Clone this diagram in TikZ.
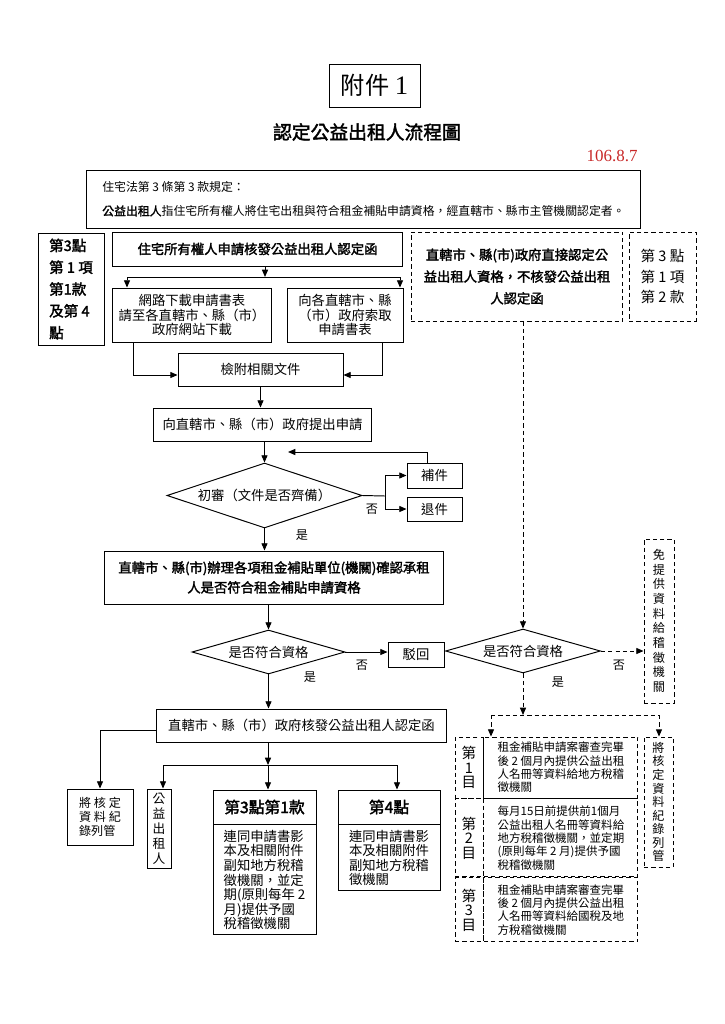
\documentclass[tikz,border=0pt]{standalone}
\usepackage{fontspec}
\setmainfont{Noto Sans CJK TC}[AutoFakeBold=2]
\newfontfamily\latinserif{Liberation Serif}
\usepackage{xcolor}
\usetikzlibrary{arrows.meta,positioning,shapes.geometric}
\definecolor{datered}{RGB}{200,40,40}

\begin{document}
\begin{tikzpicture}[
  x=0.029cm, y=-0.029cm,
  line width=0.8pt,
  >={Triangle[length=6pt,width=5pt]},
  every node/.style={font=\fontsize{11}{13}\selectfont, inner sep=0pt},
  box/.style={rectangle, draw, align=center, inner sep=2pt},
  dbox/.style={box, dash pattern=on 3.5pt off 2.5pt},
  cond/.style={diamond, draw, align=center, inner sep=0pt},
  arr/.style={->},
  darr/.style={->, dash pattern=on 3.5pt off 2.5pt},
  dline/.style={dash pattern=on 3.5pt off 2.5pt},
  yesno/.style={font=\fontsize{10}{12}\selectfont},
]
\useasboundingbox (0,0) rectangle (724,1024);

% === Heading ===
\node[box, minimum width=2.639cm, minimum height=1.247cm, font=\fontsize{20}{22}\selectfont] (annex) at (374.5,85.5) {附件 {\latinserif\fontsize{22}{22}\selectfont 1}};
\node[font=\bfseries\fontsize{15.5}{18}\selectfont] (title) at (367,132) {認定公益出租人流程圖};
\node[anchor=east, text=datered, font=\latinserif\fontsize{14}{16}\selectfont] (date) at (638,156) {106.8.7};

\node[box, minimum width=16.095cm, minimum height=1.682cm, align=left, font=\fontsize{9.8}{19.8}\selectfont] (law) at (363.5,199) {住宅法第 3 條第 3 款規定：\\\textbf{公益出租人}指住宅所有權人將住宅出租與符合租金補貼申請資格，經直轄市、縣市主管機關認定者。};

% === Left branch: application ===
\node[box, minimum width=1.914cm, minimum height=3.248cm, align=left, font=\bfseries\fontsize{12}{18}\selectfont] (note1) at (71,289) {第3點\\第 1 項\\第1款\\及第 4\\點};
\node[box, minimum width=8.439cm, minimum height=0.986cm, font=\bfseries\fontsize{11}{13}\selectfont] (apply) at (257.5,249) {住宅所有權人申請核發公益出租人認定函};
\node[box, minimum width=4.64cm, minimum height=1.566cm, font=\fontsize{11}{12.3}\selectfont] (download) at (192,315) {網路下載申請書表\\請至各直轄市、縣（市）\\政府網站下載};
\node[box, minimum width=3.364cm, minimum height=1.566cm, font=\fontsize{11}{12.3}\selectfont] (obtain) at (345,315) {向各直轄市、縣\\（市）政府索取\\申請書表};

\node[box, minimum width=4.785cm, minimum height=0.957cm] (attach) at (260.5,369.5) {檢附相關文件};
\node[box, minimum width=6.351cm, minimum height=0.957cm] (submit) at (262.5,424.5) {向直轄市、縣（市）政府提出申請};
\node[cond, aspect=3, minimum width=5.655cm, minimum height=1.885cm] (review) at (264.5,495.5) {初審（文件是否齊備）};
\node[box, minimum width=1.595cm, minimum height=0.725cm] (patch) at (434.5,475.5) {補件};
\node[box, minimum width=1.595cm, minimum height=0.696cm] (returned) at (434.5,509) {退件};

\node[box, minimum width=9.86cm, minimum height=1.537cm, font=\bfseries\fontsize{11}{16.4}\selectfont] (verify) at (274,577.5) {直轄市、縣(市)辦理各項租金補貼單位(機關)確認承租\\人是否符合租金補貼申請資格};
\node[cond, aspect=3.48, minimum width=4.437cm, minimum height=1.276cm] (elig) at (268.5,652) {是否符合資格};
\node[box, minimum width=1.624cm, minimum height=0.725cm] (reject) at (416,654.5) {駁回};
\node[box, minimum width=8.439cm, minimum height=0.957cm] (issue) at (301.5,725.5) {直轄市、縣（市）政府核發公益出租人認定函};

% === Outcomes ===
\node[box, minimum width=1.914cm, minimum height=1.624cm, align=left, font=\fontsize{10}{11.5}\selectfont] (filing) at (100,817) {將 核 定\\資 料 紀\\錄列管};
\node[box, minimum width=0.696cm, minimum height=2.291cm, font=\fontsize{10.5}{12.3}\selectfont] (landlord) at (159,828.5) {公\\益\\出\\租\\人};
\node[box, minimum width=2.987cm, minimum height=0.986cm, font=\bfseries\fontsize{13}{15}\selectfont] (p31h) at (264.5,807) {第3點第1款};
\node[box, below=0pt of p31h, minimum width=2.987cm, minimum height=3.19cm, align=left, font=\fontsize{11}{12}\selectfont] (p31b) {連同申請書影\\本及相關附件\\副知地方稅稽\\徵機關，並定\\期(原則每年 2\\月)提供予國\\稅稽徵機關};
\node[box, minimum width=2.958cm, minimum height=0.986cm, font=\bfseries\fontsize{13}{15}\selectfont] (p4h) at (389,807) {第4點};
\node[box, below=0pt of p4h, minimum width=2.958cm, minimum height=1.914cm, align=left, font=\fontsize{11}{12}\selectfont] (p4b) {連同申請書影\\本及相關附件\\副知地方稅稽\\徵機關};

% === Right branch: direct recognition ===
\node[dbox, minimum width=6.148cm, minimum height=2.581cm, font=\bfseries\fontsize{11}{18}\selectfont] (direct) at (517,276.5) {直轄市、縣(市)政府直接認定公\\益出租人資格，不核發公益出租\\人認定函};
\node[dbox, minimum width=1.943cm, minimum height=2.581cm, font=\fontsize{12}{17}\selectfont] (note2) at (662.5,276.5) {第 3 點\\第 1 項\\第 2 款};
\node[cond, aspect=3.52, minimum width=4.495cm, minimum height=1.276cm] (elig2) at (523,651) {是否符合資格};
\node[dbox, minimum width=0.87cm, minimum height=4.756cm, font=\fontsize{10}{12.1}\selectfont] (exempt) at (659,621) {免\\提\\供\\資\\料\\給\\稽\\徵\\機\\關};

\node[dbox, minimum width=0.812cm, minimum height=1.769cm, font=\fontsize{12}{12}\selectfont] (item1) at (469,767.5) {第\\1\\目};
\node[dbox, right=0pt of item1, minimum width=4.466cm, minimum height=1.769cm, align=left, font=\fontsize{9.5}{11}\selectfont] (text1) {租金補貼申請案審查完畢\\後 2 個月內提供公益出租\\人名冊等資料給地方稅稽\\徵機關};
\node[dbox, below=0pt of item1, minimum width=0.812cm, minimum height=2.262cm, font=\fontsize{12}{12}\selectfont] (item2) {第\\2\\目};
\node[dbox, right=0pt of item2, minimum width=4.466cm, minimum height=2.262cm, align=left, font=\fontsize{9.5}{11}\selectfont] (text2) {每月15日前提供前1個月\\公益出租人名冊等資料給\\地方稅稽徵機關，並定期\\(原則每年 2 月)提供予國\\稅稽徵機關};
\node[dbox, below=0pt of item2, minimum width=0.812cm, minimum height=1.856cm, font=\fontsize{12}{12}\selectfont] (item3) {第\\3\\目};
\node[dbox, right=0pt of item3, minimum width=4.466cm, minimum height=1.856cm, align=left, font=\fontsize{9.5}{11}\selectfont] (text3) {租金補貼申請案審查完畢\\後 2 個月內提供公益出租\\人名冊等資料給國稅及地\\方稅稽徵機關};
\node[dbox, minimum width=0.841cm, minimum height=3.77cm, font=\fontsize{10}{11.2}\selectfont] (keep) at (658.5,802) {將\\核\\定\\資\\料\\紀\\錄\\列\\管};

% === Branch labels ===
\node[yesno] (no1) at (372,509) {否};
\node[yesno] (yes1) at (302,535) {是};
\node[yesno] (no2) at (362,665) {否};
\node[yesno] (yes2) at (310,677) {是};
\node[yesno] (no3) at (619,665) {否};
\node[yesno] (yes3) at (558,682) {是};

% === Junction points ===
\coordinate (split1) at (265,277);
\coordinate (split1l) at (127,277);
\coordinate (split1r) at (400,277);
\coordinate (join1) at (133,375);
\coordinate (join2) at (382,375);
\coordinate (fork) at (385,496);
\coordinate (back) at (288,452);
\coordinate (split2) at (268,765);
\coordinate (split2l) at (163,765);
\coordinate (split2r) at (397,765);
\coordinate (split3) at (523,715);
\coordinate (split3l) at (491,715);
\coordinate (split3r) at (659,715);

% === Arrows: main flow ===
\draw[arr] (apply.south -| split1) -- (split1);
\draw (split1l) -- (split1r);
\draw[arr] (split1l) -- (split1l |- download.north);
\draw[arr] (split1r) -- (split1r |- obtain.north);
\draw[arr] (download.south -| join1) |- (attach.west |- join1);
\draw[arr] (obtain.south -| join2) |- (attach.east |- join2);
\draw[arr] (attach.south) -- (attach.south |- submit.north);
\draw[arr] (submit.south -| review.north) -- (review.north);
\draw (review.east) -- (fork);
\draw[arr] (fork) |- (patch.west);
\draw[arr] (fork) |- (returned.west);
\draw[arr] ([xshift=-0.19cm]patch.north) |- (back);
\draw[arr] (review.south) -- (review.south |- verify.north);
\draw[arr] (verify.south -| elig.north) -- (elig.north);
\draw[arr] (elig.east) -- (reject.west |- elig.east);
\draw[arr] (elig.south) -- (elig.south |- issue.north);
\draw[arr] ([yshift=-0.13cm]issue.west) -| (filing.north);
\draw[arr] (issue.south -| split2) -- (split2);
\draw (split2l) -- (split2r);
\draw[arr] (split2l) -- (split2l |- landlord.north);
\draw[arr] (split2) -- (split2 |- p31h.north);
\draw[arr] (split2r) -- (split2r |- p4h.north);

% === Arrows: direct recognition ===
\draw[darr] (direct.south -| elig2.north) -- (elig2.north);
\draw[darr] (elig2.east) -- (elig2.east -| exempt.west);
\draw[darr] (elig2.south) -- (split3);
\draw[dline] (split3l) -- (split3r);
\draw[darr] (split3l) -- (split3l |- text1.north);
\draw[darr] (split3r) -- (split3r |- keep.north);

\end{tikzpicture}
\end{document}
